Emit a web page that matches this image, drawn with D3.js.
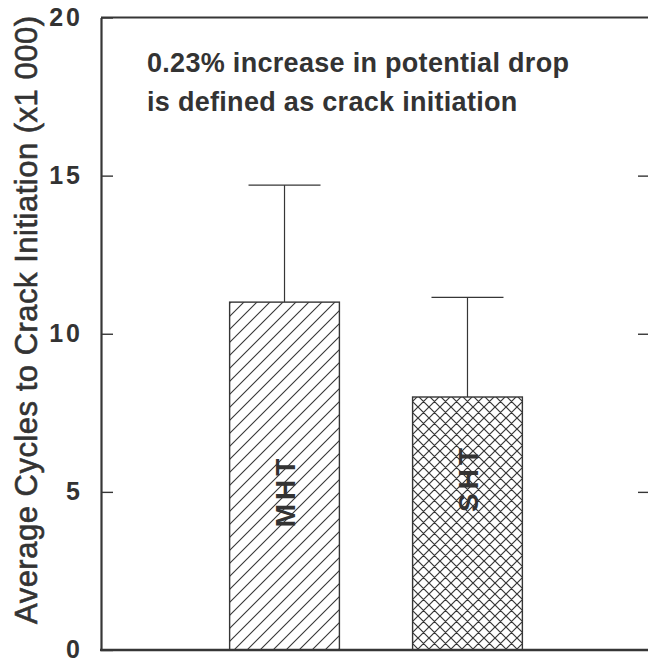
<!DOCTYPE html>
<html>
<head>
<meta charset="utf-8">
<script src="https://cdn.jsdelivr.net/npm/d3@7"></script>
<style>
  html, body { margin: 0; padding: 0; background: #ffffff; }
  svg { display: block; }
  text { font-family: "Liberation Sans", Arial, Helvetica, sans-serif; fill: #333; }
</style>
</head>
<body>
<svg id="chart" width="648" height="662"></svg>
<script>
// Heat-treatment groups and their mean cycles to crack initiation (thousands)
const groups = ["MHT", "SHT"];
const meanCycles = [11.0, 8.0];
const upperError = [14.7, 11.15];
const yTicks = [0, 5, 10, 15, 20];
const yTitle = "Average Cycles to Crack Initiation (x1 000)";
const noteLines = ["0.23% increase in potential drop", "is defined as crack initiation"];

const W = 648, H = 662;
const plot = { left: 101, right: 649, top: 17.5, bottom: 650 };
const ink = "#363636";

const svg = d3.select("#chart");
const defs = svg.append("defs");

// single diagonal hatch
const diag = defs.append("pattern")
  .attr("id", "hatchDiag").attr("patternUnits", "userSpaceOnUse")
  .attr("width", 13).attr("height", 13);
diag.append("rect").attr("width", 13).attr("height", 13).attr("fill", "#fff");
diag.append("path").attr("d", "M-3,3 L3,-3 M0,13 L13,0 M10,16 L16,10")
  .attr("stroke", ink).attr("stroke-width", 1.1);

// cross hatch
const cross = defs.append("pattern")
  .attr("id", "hatchCross").attr("patternUnits", "userSpaceOnUse")
  .attr("width", 11).attr("height", 11);
cross.append("rect").attr("width", 11).attr("height", 11).attr("fill", "#fff");
cross.append("path").attr("d", "M-3,3 L3,-3 M0,11 L11,0 M8,14 L14,8 M-3,8 L3,14 M0,0 L11,11 M8,-3 L14,3")
  .attr("stroke", ink).attr("stroke-width", 1.2);

const fills = { MHT: "url(#hatchDiag)", SHT: "url(#hatchCross)" };

const x = d3.scaleBand()
  .domain(groups)
  .range([plot.left + 1, plot.right + 1])
  .paddingInner(0.4)
  .paddingOuter(0.6975);

const y = d3.scaleLinear().domain([0, 20]).range([plot.bottom, plot.top]);

const data = groups.map((g, i) => ({ g, mean: meanCycles[i], hi: upperError[i] }));

// frame: top rule
svg.append("line").attr("x1", plot.left).attr("x2", W + 2)
  .attr("y1", plot.top).attr("y2", plot.top)
  .attr("stroke", ink).attr("stroke-width", 2);

// error bars
const capHalf = 36;
const eb = svg.append("g").attr("stroke", ink).attr("stroke-width", 1.2);
eb.selectAll("line.v").data(data).join("line").attr("class", "v")
  .attr("x1", d => x(d.g) + x.bandwidth() / 2).attr("x2", d => x(d.g) + x.bandwidth() / 2)
  .attr("y1", d => y(d.mean)).attr("y2", d => y(d.hi));
eb.selectAll("line.c").data(data).join("line").attr("class", "c")
  .attr("x1", d => x(d.g) + x.bandwidth() / 2 - capHalf)
  .attr("x2", d => x(d.g) + x.bandwidth() / 2 + capHalf)
  .attr("y1", d => y(d.hi)).attr("y2", d => y(d.hi));

// bars
svg.append("g").selectAll("rect").data(data).join("rect")
  .attr("x", d => x(d.g))
  .attr("y", d => y(d.mean))
  .attr("width", x.bandwidth())
  .attr("height", d => y(0) - y(d.mean))
  .attr("fill", d => fills[d.g])
  .attr("stroke", ink).attr("stroke-width", 1.4);

// group names written up the bars
const labelY = { MHT: 491, SHT: 478 };
svg.append("g").selectAll("text").data(data).join("text")
  .attr("transform", d => `translate(${x(d.g) + x.bandwidth() / 2},${labelY[d.g]}) rotate(-90)`)
  .attr("text-anchor", "middle")
  .attr("dy", "0.36em")
  .style("font-size", "28px")
  .style("font-weight", "bold")
  .style("letter-spacing", "4px")
  .text(d => d.g);

// left axis with inward ticks
const left = svg.append("g")
  .attr("transform", `translate(${plot.left},0)`)
  .call(d3.axisLeft(y).tickValues(yTicks).tickSizeInner(-12).tickSizeOuter(0).tickPadding(18));
left.select(".domain").attr("stroke", ink).attr("stroke-width", 2.2);
left.selectAll(".tick line").attr("stroke", ink).attr("stroke-width", 1.4);
left.selectAll(".tick text")
  .attr("dy", "0.3em")
  .style("font-size", "25px").style("font-weight", "bold")
  .style("letter-spacing", "3px")
  .attr("fill", "#333");

// right axis: inward ticks only
const right = svg.append("g")
  .attr("transform", `translate(${plot.right},0)`)
  .call(d3.axisRight(y).tickValues(yTicks.filter(v => v > 0 && v < 20)).tickSizeInner(-11).tickSizeOuter(0).tickFormat(""));
right.select(".domain").attr("stroke", ink).attr("stroke-width", 2);
right.selectAll(".tick line").attr("stroke", ink).attr("stroke-width", 1.4);

// bottom rule (x axis line)
svg.append("line").attr("x1", plot.left - 1).attr("x2", W + 2)
  .attr("y1", plot.bottom).attr("y2", plot.bottom)
  .attr("stroke", ink).attr("stroke-width", 2.4);

// y-axis title
svg.append("text")
  .attr("transform", `translate(37,${(plot.top + plot.bottom) / 2 - 14}) rotate(-90)`)
  .attr("text-anchor", "middle")
  .style("font-size", "31px")
  .style("letter-spacing", "0.5px")
  .style("stroke", "#333").style("stroke-width", "0.6px")
  .text(yTitle);

// note inside the plot
svg.append("g").selectAll("text").data(noteLines).join("text")
  .attr("x", 147)
  .attr("y", (d, i) => 72 + i * 38.5)
  .style("font-size", "27px")
  .style("font-weight", "bold")
  .style("letter-spacing", "0.3px")
  .text(d => d);
</script>
</body>
</html>
